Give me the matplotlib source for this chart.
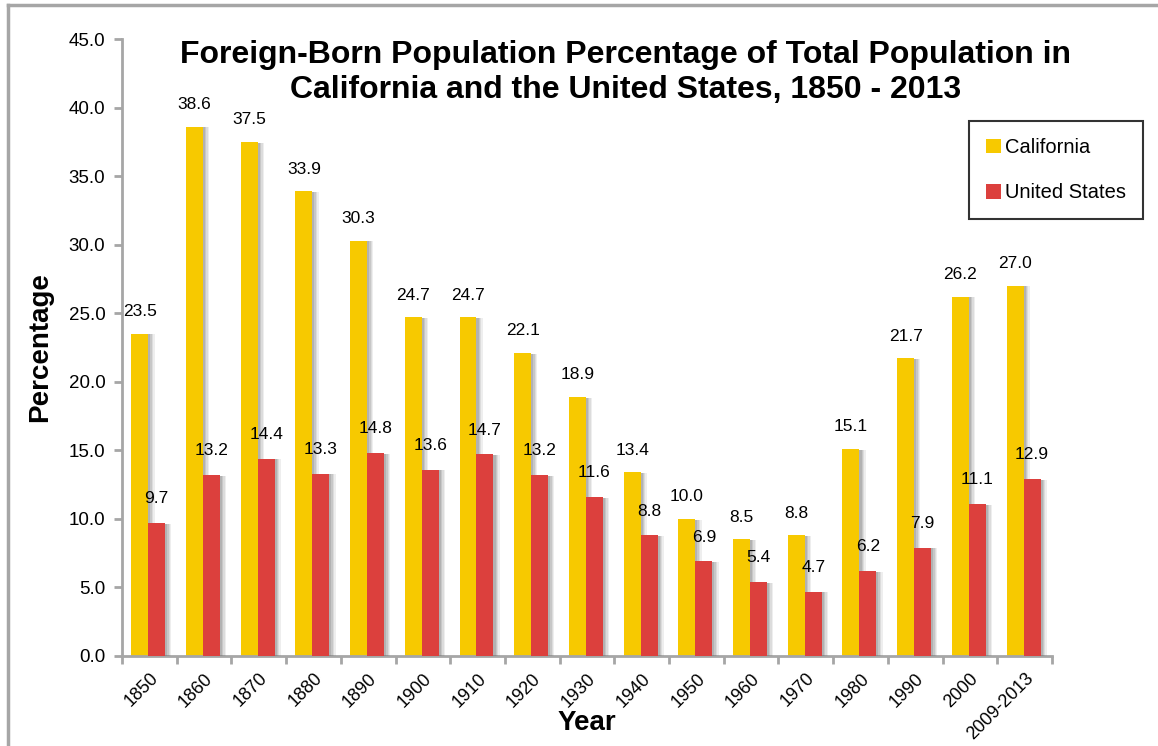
import numpy as np
import matplotlib
matplotlib.use('Agg')
import matplotlib.pyplot as plt
import matplotlib.patheffects as pe
from matplotlib.lines import Line2D

plt.rcParams['font.family'] = ['Liberation Sans', 'DejaVu Sans']

# data
years = ['1850', '1860', '1870', '1880', '1890', '1900', '1910', '1920', '1930',
         '1940', '1950', '1960', '1970', '1980', '1990', '2000', '2009-2013']
california = [23.5, 38.6, 37.5, 33.9, 30.3, 24.7, 24.7, 22.1, 18.9,
              13.4, 10.0, 8.5, 8.8, 15.1, 21.7, 26.2, 27.0]
united_states = [9.7, 13.2, 14.4, 13.3, 14.8, 13.6, 14.7, 13.2, 11.6,
                 8.8, 6.9, 5.4, 4.7, 6.2, 7.9, 11.1, 12.9]

yellow = '#F7C900'
red = '#DC403D'
axis_gray = '#A6A6A6'

fig = plt.figure(figsize=(11.58, 7.46), dpi=100)
ax = fig.add_axes([122/1158, 1-656/746, (1052-122)/1158, (656-39)/746])

x = np.arange(len(years))
w = 0.31
# soft shadow on the right of each bar, fading out
shadow = [pe.SimplePatchShadow(offset=(o, -0.5), shadow_rgbFace='#777777', alpha=a)
          for o, a in [(4.5, 0.12), (3.5, 0.15), (2.5, 0.2), (1.5, 0.25)]] + [pe.Normal()]
b1 = ax.bar(x - w/2 - 0.02, california, w, color=yellow, label='California', zorder=2)
b2 = ax.bar(x + w/2 - 0.02, united_states, w, color=red, label='United States', zorder=3)
for p in list(b1) + list(b2):
    p.set_path_effects(shadow)

# value labels
for xi, v in zip(x, california):
    ax.annotate(f'{v:.1f}', (xi - w/2 - 0.02, v), xytext=(0, 10.5), textcoords='offset points',
                ha='center', va='bottom', fontsize=12.5)
for xi, v in zip(x, united_states):
    ax.annotate(f'{v:.1f}', (xi + w/2 - 0.02, v), xytext=(0, 12), textcoords='offset points',
                ha='center', va='bottom', fontsize=12.5)

ax.set_xlim(-0.5, len(years) - 0.5)
ax.set_ylim(0, 45)
ax.set_yticks(np.arange(0, 45.1, 5))
ax.set_yticklabels([f'{t:.1f}' for t in np.arange(0, 45.1, 5)], fontsize=13.5)
ax.set_xticks(x)
ax.set_xticklabels(years, rotation=45, ha='right', rotation_mode='anchor', fontsize=13)
ax.set_xticks(np.arange(-0.5, len(years)), minor=True)
ax.tick_params(axis='x', which='major', length=0, pad=10)
ax.tick_params(axis='x', which='minor', length=6, width=2, color=axis_gray, direction='out')
ax.tick_params(axis='y', length=6, width=2, color=axis_gray, pad=6)

for s in ['top', 'right']:
    ax.spines[s].set_visible(False)
for s in ['left', 'bottom']:
    ax.spines[s].set_color(axis_gray)
    ax.spines[s].set_linewidth(2)

ax.set_ylabel('Percentage', fontsize=20, fontweight='bold')
ax.yaxis.set_label_coords((53-122)/930, 0.5)
ax.set_xlabel('Year', fontsize=20, fontweight='bold')
ax.xaxis.set_label_coords(0.5, (656-710)/617)

# title, one text per line
fig.text(0.54, 1-55/746, 'Foreign-Born Population Percentage of Total Population in',
         ha='center', va='center', fontsize=23, fontweight='bold')
fig.text(0.54, 1-90/746, 'California and the United States, 1850 - 2013',
         ha='center', va='center', fontsize=23, fontweight='bold')

leg = ax.legend(loc='upper left', bbox_to_anchor=(969/1158, 1-121/746), bbox_transform=fig.transFigure,
                fontsize=14.5, frameon=True, fancybox=False, edgecolor='black',
                handlelength=0.75, handleheight=0.75, handletextpad=0.2,
                labelspacing=1.3, borderpad=0.85, borderaxespad=0)
leg.get_frame().set_linewidth(1.5)
for h in leg.legend_handles:
    h.set_path_effects([pe.Normal()])

# outer chart border
fig.add_artist(Line2D([8/1158, 1], [1-5/746, 1-5/746], color=axis_gray, lw=2.5, transform=fig.transFigure))
fig.add_artist(Line2D([8/1158, 8/1158], [0, 1-5/746], color=axis_gray, lw=2.5, transform=fig.transFigure))

fig.savefig('out.png', dpi=100, facecolor='white')
